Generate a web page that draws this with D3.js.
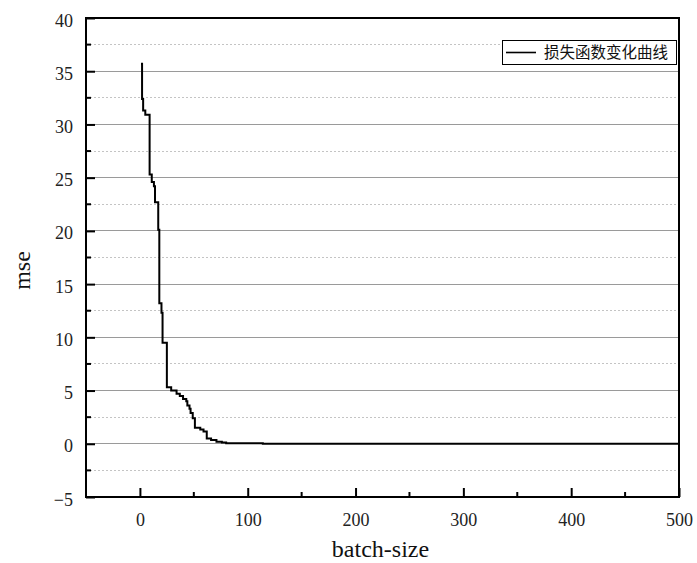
<!DOCTYPE html>
<html>
<head>
<meta charset="utf-8">
<script src="https://cdn.jsdelivr.net/npm/d3@7/dist/d3.min.js"></script>
<style>
  html, body { margin: 0; padding: 0; background: #fff; }
  svg { display: block; }
</style>
</head>
<body>
<svg id="chart" width="697" height="563"></svg>
<script>
// Best-so-far loss per iteration: the value holds until the next entry.
const iterations = [1, 2, 3, 5, 9, 11, 13, 14, 17, 18, 20, 21, 25, 29, 34, 37, 40, 43, 44, 46, 47, 49, 51, 56, 59, 62, 66, 71, 76, 80, 114, 500];
const mseValues  = [35.7, 32.4, 31.3, 30.9, 25.3, 24.6, 24.2, 22.7, 20.1, 13.2, 12.3, 9.5, 5.3, 5.0, 4.7, 4.5, 4.2, 4.0, 3.6, 3.3, 2.9, 2.4, 1.5, 1.35, 1.15, 0.5, 0.35, 0.2, 0.12, 0.06, 0.0, 0.0];

const xTicks = [0, 100, 200, 300, 400, 500];
const xMinorTicks = [-50, 50, 150, 250, 350, 450];
const yTicks = [-5, 0, 5, 10, 15, 20, 25, 30, 35, 40];
const yMinorTicks = [-2.5, 2.5, 7.5, 12.5, 17.5, 22.5, 27.5, 32.5, 37.5];

const seriesName = "损失函数变化曲线";
const xTitle = "batch-size";
const yTitle = "mse";

const margin = { left: 86, right: 18, top: 18, bottom: 66 };
const W = 697, H = 563;
const svg = d3.select("#chart");
const serif = "Liberation Serif, Tinos, Times New Roman, Times, Nimbus Roman, FreeSerif, DejaVu Serif, Noto Serif, serif";

const x = d3.scaleLinear().domain([-50, 500]).range([margin.left, W - margin.right]);
const y = d3.scaleLinear().domain([-5, 40]).range([H - margin.bottom, margin.top]);

// horizontal grid: solid at major ticks, dotted at minor ticks
svg.append("g").selectAll("line").data(yMinorTicks).join("line")
  .attr("x1", x.range()[0]).attr("x2", x.range()[1])
  .attr("y1", d => y(d)).attr("y2", d => y(d))
  .attr("stroke", "#c4c4c4").attr("stroke-width", 1).attr("stroke-dasharray", "2,2")
  .attr("shape-rendering", "crispEdges");
svg.append("g").selectAll("line").data(yTicks.filter(d => d > -5 && d < 40)).join("line")
  .attr("x1", x.range()[0]).attr("x2", x.range()[1])
  .attr("y1", d => y(d)).attr("y2", d => y(d))
  .attr("stroke", "#9a9a9a").attr("stroke-width", 1)
  .attr("shape-rendering", "crispEdges");

// loss curve
const pts = iterations.map((it, i) => [it, mseValues[i]]);
svg.append("path")
  .datum(pts)
  .attr("fill", "none")
  .attr("stroke", "#000")
  .attr("stroke-width", 2)
  .attr("d", d3.line().x(d => x(d[0])).y(d => y(d[1])).curve(d3.curveStepAfter));

// axes with inward ticks
const xAxis = d3.axisBottom(x).tickValues(xTicks).tickSize(-9).tickPadding(16).tickFormat(d3.format("d"));
const yAxis = d3.axisLeft(y).tickValues(yTicks).tickSize(-9).tickPadding(13).tickFormat(d => d < 0 ? "\u2212" + Math.abs(d) : d);

const gx = svg.append("g").attr("transform", `translate(0,${y(-5)})`).call(xAxis);
const gy = svg.append("g").attr("transform", `translate(${x(-50)},0)`).call(yAxis);
[gx, gy].forEach(g => {
  g.attr("font-family", serif).attr("font-size", 18);
  g.select(".domain").remove();
  g.selectAll(".tick line").attr("stroke", "#000").attr("stroke-width", 2);
  g.selectAll(".tick text").attr("fill", "#222");
});
gy.selectAll(".tick text").attr("dy", "0.45em");

// minor ticks
svg.append("g").selectAll("line").data(xMinorTicks.filter(d => d > -50)).join("line")
  .attr("x1", d => x(d)).attr("x2", d => x(d))
  .attr("y1", y(-5)).attr("y2", y(-5) - 5)
  .attr("stroke", "#000").attr("stroke-width", 2);
svg.append("g").selectAll("line").data(yMinorTicks).join("line")
  .attr("x1", x(-50)).attr("x2", x(-50) + 5)
  .attr("y1", d => y(d)).attr("y2", d => y(d))
  .attr("stroke", "#000").attr("stroke-width", 2);

// frame
svg.append("rect")
  .attr("x", x(-50)).attr("y", y(40))
  .attr("width", x(500) - x(-50)).attr("height", y(-5) - y(40))
  .attr("fill", "none").attr("stroke", "#000").attr("stroke-width", 2);

// axis titles
svg.append("text")
  .attr("x", (x(-50) + x(500)) / 2 - 2).attr("y", 557)
  .attr("text-anchor", "middle")
  .attr("font-family", serif).attr("font-size", 24).attr("fill", "#111")
  .text(xTitle);
svg.append("text")
  .attr("transform", `translate(30,${(y(40) + y(-5)) / 2 + 13}) rotate(-90)`)
  .attr("text-anchor", "middle")
  .attr("font-family", serif).attr("font-size", 24).attr("fill", "#111")
  .text(yTitle);

// legend
const lg = svg.append("g").attr("transform", "translate(502,40)");
lg.append("rect").attr("width", 174).attr("height", 24)
  .attr("fill", "#fff").attr("stroke", "#000").attr("stroke-width", 1)
  .attr("shape-rendering", "crispEdges");
lg.append("line").attr("x1", 4).attr("x2", 34).attr("y1", 12.5).attr("y2", 12.5)
  .attr("stroke", "#000").attr("stroke-width", 1.6);
lg.append("text").attr("x", 42).attr("y", 18)
  .attr("font-family", "Noto Sans CJK SC, sans-serif").attr("font-size", 15.5).attr("fill", "#111")
  .text(seriesName);
</script>
</body>
</html>
